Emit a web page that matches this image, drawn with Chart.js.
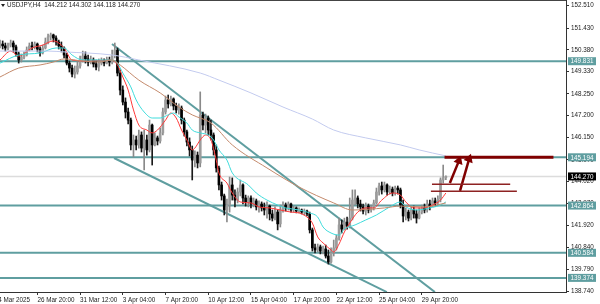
<!DOCTYPE html>
<html>
<head>
<meta charset="utf-8">
<script src="https://cdn.jsdelivr.net/npm/chart.js@4.4.1/dist/chart.umd.min.js"></script>
<style>
  html, body { margin: 0; padding: 0; background: #fff; }
  canvas { display: block; }
</style>
</head>
<body>
<canvas id="usdjpyChart" width="600" height="304"></canvas>
<script>
// USDJPY H4 candles (one entry per 4h bar)
const opens = [
  150.57,150.66,150.57,150.47,150.61,150.71,150.52,150.18,149.89,150.03,
  150.13,150.37,150.57,150.52,150.66,150.42,150.23,150.47,150.76,151.00,
  151.10,150.95,150.76,150.57,150.47,150.13,149.74,149.50,149.21,149.31,
  149.60,149.89,150.08,149.94,149.79,149.89,149.70,149.55,149.74,149.84,
  149.74,149.89,149.79,150.13,150.37,149.26,148.44,147.86,147.38,146.99,
  145.79,146.03,145.79,146.27,145.64,146.03,145.55,146.75,145.79,146.13,
  145.98,146.37,147.38,147.96,147.77,148.01,147.67,147.48,147.57,146.99,
  146.42,145.93,145.55,145.06,145.30,144.92,147.24,146.75,147.09,146.51,
  146.27,145.55,144.68,143.86,143.33,142.65,142.89,143.86,143.37,143.13,
  143.52,143.86,143.23,143.04,143.23,142.94,143.09,142.80,142.94,142.75,
  142.65,142.84,142.46,142.26,142.55,141.98,142.65,142.89,142.75,142.94,
  142.65,142.75,142.60,142.65,142.55,142.60,142.46,141.69,140.82,140.72,
  140.87,140.67,140.77,140.43,140.14,140.58,140.82,141.30,141.93,141.73,
  142.07,141.88,142.26,143.13,143.23,142.94,142.80,142.60,142.84,142.65,
  142.80,142.99,143.52,143.81,143.62,143.86,143.52,143.66,143.47,143.71,
  143.62,142.89,142.36,142.55,142.26,142.65,142.46,142.26,142.55,142.75,
  142.65,142.94,142.84,143.09,142.99,143.18,144.10,144.212
];
const highs = [
  150.85,150.81,150.71,150.71,150.85,150.81,150.61,150.28,150.18,150.28,
  150.52,150.71,150.76,150.76,150.71,150.52,150.61,150.95,151.14,151.19,
  151.14,151.05,150.85,150.76,150.52,150.23,149.84,149.65,149.60,149.79,
  150.08,150.32,150.28,150.13,150.08,149.99,149.89,149.94,149.99,149.94,
  150.03,150.03,150.37,150.71,150.47,149.41,148.64,148.06,147.57,147.09,
  146.27,146.22,146.51,146.42,146.51,146.27,146.99,146.80,146.37,146.22,
  146.61,147.57,148.15,148.20,148.15,148.06,147.81,147.77,147.67,147.09,
  146.51,146.13,145.74,145.50,145.45,148.35,147.38,147.28,147.19,146.99,
  146.37,145.79,144.77,144.00,143.42,143.18,144.24,144.20,143.62,143.71,
  144.10,143.91,143.37,143.33,143.33,143.23,143.18,143.09,143.04,142.99,
  143.04,142.89,142.65,142.80,142.65,142.89,143.04,142.99,143.04,142.99,
  142.84,142.80,142.75,142.70,142.70,142.65,142.55,141.78,141.01,141.01,
  140.96,140.91,140.96,140.72,140.82,141.20,141.44,142.26,142.17,142.26,
  142.31,143.23,143.62,143.62,143.33,143.13,142.94,142.99,142.94,142.89,
  143.13,143.71,143.95,144.00,144.00,143.91,143.81,143.76,143.81,143.81,
  143.71,143.13,142.75,142.65,142.80,142.84,142.65,142.75,142.89,142.94,
  143.13,143.13,143.23,143.23,143.33,144.20,144.82,144.302
];
const lows = [
  150.47,150.42,150.32,150.37,150.52,150.28,150.08,149.74,149.79,149.94,
  150.08,150.32,150.37,150.42,150.28,150.08,150.18,150.42,150.66,150.85,
  150.76,150.61,150.42,150.28,149.99,149.65,149.31,149.07,149.02,149.21,
  149.50,149.79,149.74,149.60,149.70,149.55,149.41,149.36,149.65,149.60,
  149.70,149.60,149.70,149.99,149.12,148.20,147.72,147.09,146.80,145.55,
  145.21,145.55,145.64,145.45,144.58,145.30,145.45,144.82,145.74,145.79,
  145.88,146.27,147.28,147.57,147.67,147.48,147.33,147.28,146.80,146.22,
  145.74,145.26,144.10,144.73,144.68,144.73,146.51,146.37,146.27,146.03,
  145.30,144.48,143.62,143.13,142.41,142.07,142.55,143.13,142.80,142.99,
  143.33,142.94,142.84,142.80,142.75,142.80,142.65,142.55,142.60,142.41,
  142.26,142.17,142.12,142.17,141.69,141.83,142.55,142.60,142.65,142.55,
  142.55,142.51,142.51,142.46,142.41,142.36,141.54,140.67,140.58,140.62,
  140.53,140.53,140.33,140.04,140.09,140.43,140.72,141.20,141.54,141.69,
  141.73,141.78,142.17,142.89,142.75,142.60,142.46,142.41,142.51,142.55,
  142.65,142.94,143.37,143.42,143.52,143.37,143.42,143.33,143.37,143.42,
  142.75,142.07,142.17,142.12,142.17,142.26,142.02,142.22,142.46,142.51,
  142.55,142.65,142.80,142.84,142.89,143.04,143.95,144.118
];
const closes = [
  150.66,150.57,150.47,150.61,150.71,150.52,150.18,149.89,150.03,150.13,
  150.37,150.57,150.52,150.66,150.42,150.23,150.47,150.76,151.00,151.10,
  150.95,150.76,150.57,150.47,150.13,149.74,149.50,149.21,149.31,149.60,
  149.89,150.08,149.94,149.79,149.89,149.70,149.55,149.74,149.84,149.74,
  149.89,149.79,150.13,150.37,149.26,148.44,147.86,147.38,146.99,145.79,
  146.03,145.79,146.27,145.64,146.03,145.55,146.75,145.79,146.13,145.98,
  146.37,147.38,147.96,147.77,148.01,147.67,147.48,147.57,146.99,146.42,
  145.93,145.55,145.06,145.30,144.92,147.24,146.75,147.09,146.51,146.27,
  145.55,144.68,143.86,143.33,142.65,142.89,143.86,143.37,143.13,143.52,
  143.86,143.23,143.04,143.23,142.94,143.09,142.80,142.94,142.75,142.65,
  142.84,142.46,142.26,142.55,141.98,142.65,142.89,142.75,142.94,142.65,
  142.75,142.60,142.65,142.55,142.60,142.46,141.69,140.82,140.72,140.87,
  140.67,140.77,140.43,140.14,140.58,140.82,141.30,141.93,141.73,142.07,
  141.88,142.26,143.13,143.23,142.94,142.80,142.60,142.84,142.65,142.80,
  142.99,143.52,143.81,143.62,143.86,143.52,143.66,143.47,143.71,143.62,
  142.89,142.36,142.55,142.26,142.65,142.46,142.26,142.55,142.75,142.65,
  142.94,142.84,143.09,142.99,143.18,144.10,144.212,144.270
];

// moving averages, sampled along the drawn curves (bar index -> price)
const fastMaIdx  = [0, 4, 7, 12, 16, 20, 24, 27, 33, 41, 44, 46, 48, 50, 52, 55, 57, 59, 62, 64, 66, 68, 70, 72, 73, 75, 77, 79, 81, 82, 85, 87, 90, 94, 97, 101, 105, 109, 112, 115, 117, 119, 121, 124, 125, 127, 129, 131, 134, 137, 140, 143, 147, 150, 152, 155, 158, 162, 165, 167];
const fastMaVals = [149.89, 150.32, 150.08, 150.47, 150.61, 150.81, 150.47, 149.89, 149.84, 149.89, 149.65, 149.07, 148.44, 147.48, 146.75, 146.51, 146.37, 146.51, 146.99, 147.33, 147.09, 146.51, 146.03, 145.55, 145.64, 146.03, 146.27, 146.03, 145.06, 144.44, 143.95, 143.47, 143.04, 142.99, 142.80, 142.75, 142.65, 142.55, 142.51, 142.31, 142.02, 141.35, 141.06, 140.72, 140.62, 141.01, 141.59, 142.02, 142.55, 142.75, 142.75, 143.13, 143.47, 143.37, 143.04, 142.75, 142.75, 142.89, 143.13, 143.47];
const midMaIdx   = [0, 7, 15, 21, 24, 27, 31, 37, 41, 44, 46, 49, 51, 54, 57, 60, 63, 65, 67, 70, 72, 75, 78, 80, 82, 85, 87, 93, 96, 100, 104, 107, 112, 116, 119, 121, 124, 127, 129, 133, 137, 141, 146, 150, 152, 156, 161, 165, 167];
const midMaVals  = [149.74, 150.13, 150.23, 150.47, 150.47, 150.13, 149.89, 149.89, 149.89, 149.74, 149.26, 148.59, 147.96, 147.38, 147.09, 147.09, 147.24, 147.33, 147.14, 146.85, 146.51, 146.37, 146.27, 146.03, 145.55, 145.06, 144.44, 143.86, 143.47, 143.13, 142.89, 142.75, 142.65, 142.51, 142.31, 141.83, 141.54, 141.44, 141.73, 141.93, 142.17, 142.41, 142.80, 143.04, 142.80, 142.65, 142.75, 142.89, 143.04];
const slowMaIdx  = [0, 7, 15, 20, 24, 31, 37, 42, 45, 52, 60, 67, 72, 79, 87, 100, 112, 125, 132, 144, 150, 159, 167];
const slowMaVals = [149.07, 149.50, 149.65, 149.79, 149.94, 149.84, 149.79, 149.89, 149.65, 148.92, 148.30, 147.62, 147.24, 146.85, 145.79, 144.68, 143.76, 142.99, 142.65, 142.75, 142.84, 142.80, 142.99];
const longMaIdx  = [0, 18, 24, 42, 52, 75, 82, 94, 106, 117, 125, 137, 150, 157, 167];
const longMaVals = [150.32, 150.32, 150.28, 150.13, 149.89, 149.26, 148.92, 148.30, 147.62, 147.04, 146.51, 146.13, 145.79, 145.55, 145.26];

// horizontal levels, bid line and hand-drawn objects
const levelPrices = [149.831, 145.194, 142.864, 140.584, 139.374];
const bidPrice = 144.270;
const trendUpperIdx = [41.95, 162.9];
const trendUpperVals = [150.66, 138.69];
const trendLowerIdx = [42.7, 144.9];
const trendLowerVals = [145.16, 138.69];
const zoneTopIdx = [166.5, 207.3];
const zoneTopVals = [145.194, 145.194];
const zoneMidIdx = [161.8, 191.1];
const zoneMidVals = [143.89, 143.89];
const zoneLowIdx = [161.4, 193.6];
const zoneLowVals = [143.55, 143.55];
const arrowOneIdx = [168.5, 171.9];
const arrowOneVals = [143.95, 145.02];
const arrowTwoIdx = [172.3, 175.7];
const arrowTwoVals = [143.57, 145.11];

// axes
const timeTickIdx = [-2, 14, 30, 46, 62, 78, 94, 110, 126, 142, 158];
const timeLabels = ['24 Mar 2025', '26 Mar 20:00', '31 Mar 12:00', '3 Apr 04:00', '7 Apr 20:00', '10 Apr 12:00', '15 Apr 04:00', '17 Apr 20:00', '22 Apr 12:00', '25 Apr 04:00', '29 Apr 20:00'];
const priceTicks = [152.51, 151.43, 150.38, 149.33, 148.25, 147.20, 146.15, 145.07, 144.02, 142.97, 141.92, 140.84, 139.79, 138.74];
const headerText = 'USDJPY,H4  144.212 144.302 144.118 144.270';

const FONT = '"Liberation Sans", Arial, sans-serif';
const TEAL = '#5f9ea0';
const MAROON = '#800000';

const pts = (xs, ys) => xs.map((x, k) => ({ x: x, y: ys[k] }));
const barIdx = closes.map((_, i) => i);
const isBull = i => closes[i] >= opens[i];

function hline(price, color, width, order) {
  return { type: 'line', data: [{ x: 0, y: price }, { x: 212, y: price }], borderColor: color, borderWidth: width, pointRadius: 0, order: order };
}
function seg(xs, ys, color, width, order, extra) {
  return Object.assign({ type: 'line', data: pts(xs, ys), borderColor: color, borderWidth: width, pointRadius: 0, order: order }, extra || {});
}
function ma(xs, ys, color) {
  return { type: 'line', data: pts(xs, ys), borderColor: color, borderWidth: 1, pointRadius: 0, cubicInterpolationMode: 'monotone', order: 2 };
}
function arrow(xs, ys) {
  return seg(xs, ys, MAROON, 2.5, 1, {
    pointRadius: [0, 3], pointStyle: 'triangle', rotation: 20,
    pointBackgroundColor: MAROON, pointBorderColor: MAROON, clip: false
  });
}

// price tags on the right axis and the header text
const overlayPlugin = {
  id: 'overlay',
  afterDraw(chart) {
    const c = chart.ctx;
    const y = chart.scales.y;
    const area = chart.chartArea;
    c.save();
    // top frame line
    c.strokeStyle = '#444';
    c.lineWidth = 1;
    c.beginPath();
    c.moveTo(area.left, area.top + 0.5);
    c.lineTo(area.right, area.top + 0.5);
    c.stroke();

    c.font = '6.3px ' + FONT;
    c.textBaseline = 'middle';
    c.textAlign = 'center';
    const tag = (price, bg) => {
      const py = y.getPixelForValue(price);
      c.fillStyle = bg;
      c.fillRect(area.right + 2, py - 4, 28, 8);
      c.fillStyle = '#fff';
      c.fillText(price.toFixed(3), area.right + 16, py + 0.5);
    };
    levelPrices.forEach(p => tag(p, TEAL));
    tag(bidPrice, '#000');

    // header
    c.fillStyle = '#222';
    c.textAlign = 'left';
    c.fillText(headerText, 7, 5.5);
    c.beginPath();
    c.moveTo(1, 4); c.lineTo(5, 4); c.lineTo(3, 7); c.closePath();
    c.fill();
    c.restore();
  }
};

new Chart(document.getElementById('usdjpyChart'), {
  type: 'bar',
  data: {
    datasets: [
      hline(bidPrice, '#dcdcdc', 1.5, 7),
      ...levelPrices.map(p => hline(p, TEAL, 2, 6)),
      seg(trendUpperIdx, trendUpperVals, TEAL, 2, 6),
      seg(trendLowerIdx, trendLowerVals, TEAL, 2, 6),
      {
        type: 'bar', label: 'wicks',
        data: barIdx.map(i => ({ x: i, y: [lows[i], highs[i]] })),
        backgroundColor: barIdx.map(i => isBull(i) ? '#8a8a8a' : '#1a1a1a'),
        barThickness: 1, grouped: false, order: 4
      },
      {
        type: 'bar', label: 'bodies',
        data: barIdx.map(i => ({ x: i, y: [opens[i], closes[i]] })),
        backgroundColor: barIdx.map(i => isBull(i) ? '#9c9c9c' : '#000'),
        barThickness: 2, minBarLength: 1, grouped: false, order: 3
      },
      ma(longMaIdx, longMaVals, '#c3cbef'),
      ma(slowMaIdx, slowMaVals, '#c48a6c'),
      ma(midMaIdx, midMaVals, '#3fdcdc'),
      ma(fastMaIdx, fastMaVals, '#ff3838'),
      seg(zoneTopIdx, zoneTopVals, MAROON, 3, 1),
      seg(zoneMidIdx, zoneMidVals, '#8e2222', 1.5, 1),
      seg(zoneLowIdx, zoneLowVals, '#8e2222', 1.5, 1),
      arrow(arrowOneIdx, arrowOneVals),
      arrow(arrowTwoIdx, arrowTwoVals)
    ]
  },
  options: {
    responsive: false,
    animation: false,
    devicePixelRatio: 1,
    events: [],
    layout: { padding: 0, autoPadding: false },
    plugins: { legend: { display: false }, tooltip: { enabled: false } },
    scales: {
      x: {
        type: 'linear', min: 0, max: 212, offset: false,
        grid: { offset: false, drawOnChartArea: false, drawTicks: true, tickLength: 3, color: '#333' },
        border: { display: true, color: '#333' },
        ticks: {
          autoSkip: false, maxRotation: 0, align: 'start', padding: 1, color: '#222',
          font: { family: FONT, size: 6.3 },
          callback: (v, i) => timeLabels[i]
        },
        afterBuildTicks: s => { s.ticks = timeTickIdx.map(v => ({ value: v })); },
        afterFit: s => { s.height = 12; s.paddingLeft = 0; s.paddingRight = 0; }
      },
      y: {
        position: 'right', min: 138.693, max: 152.785,
        grid: { drawOnChartArea: false, drawTicks: true, tickLength: 3, color: '#333' },
        border: { display: true, color: '#333' },
        ticks: {
          autoSkip: false, padding: 2, color: '#222',
          font: { family: FONT, size: 6.3 },
          callback: v => v.toFixed(3)
        },
        afterBuildTicks: s => { s.ticks = priceTicks.map(v => ({ value: v })); },
        afterFit: s => { s.width = 34; s.paddingTop = 0; s.paddingBottom = 0; }
      }
    }
  },
  plugins: [overlayPlugin]
});
</script>
</body>
</html>
